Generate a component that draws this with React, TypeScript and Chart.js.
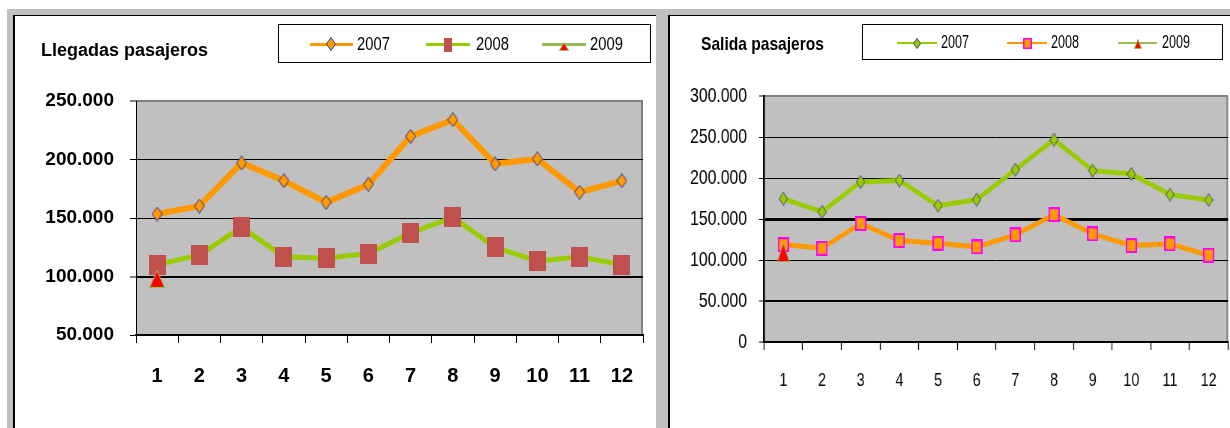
import React, { useEffect, useRef } from "react";
import { Chart, registerables } from "chart.js";

Chart.register(...registerables);

// ---------- data ----------
const months = ["1", "2", "3", "4", "5", "6", "7", "8", "9", "10", "11", "12"];
const seriesNames = ["2007", "2008", "2009"];

const llegadas2007 = [153400, 160200, 197100, 181800, 163400, 178700, 219800, 234000, 196300, 200500, 172100, 181800];
const llegadas2008 = [110000, 118400, 142000, 116800, 115700, 119600, 137200, 150600, 125000, 113100, 116800, 110000];
const llegadas2009 = [98000, null, null, null, null, null, null, null, null, null, null, null];

const salida2007 = [174800, 158600, 195200, 196800, 166300, 173600, 210200, 246700, 209000, 204900, 179700, 173200];
const salida2008 = [118800, 114300, 144400, 123700, 120400, 116000, 130600, 155300, 131800, 117600, 119600, 105800];
const salida2009 = [109000, null, null, null, null, null, null, null, null, null, null, null];

const llegadasTicks = [50000, 100000, 150000, 200000, 250000];
const salidaTicks = [0, 50000, 100000, 150000, 200000, 250000, 300000];

const llegadasTitle = "Llegadas pasajeros";
const salidaTitle = "Salida pasajeros";

// ---------- styles ----------
const SANS = '"Liberation Sans", Arial, sans-serif';

const ORANGE = "#FF9900";
const LIME = "#99CC00";
const BRICK = "#C0504D";
const OLIVE = "#9BBB59";
const NAVY = "#3C3C8C";

// right chart is drawn wider and squeezed horizontally (condensed look)
const RIGHT_W = 560;
const RIGHT_LOGICAL_W = 747;
const RS = RIGHT_W / RIGHT_LOGICAL_W;

function fmt(v: number) {
  if (v === 0) return "0";
  return Math.round(v).toString().replace(/\B(?=(\d{3})+(?!\d))/g, ".");
}

function makeCanvas(w: number, h: number, draw: (c: CanvasRenderingContext2D) => void) {
  const c = document.createElement("canvas");
  c.width = w;
  c.height = h;
  const ctx = c.getContext("2d") as CanvasRenderingContext2D;
  draw(ctx);
  return c;
}
function diamondStyle(w: number, h: number, fill: string, stroke: string) {
  return makeCanvas(w, h, (x) => {
    x.beginPath();
    x.moveTo(w / 2, 0.5);
    x.lineTo(w - 0.5, h / 2);
    x.lineTo(w / 2, h - 0.5);
    x.lineTo(0.5, h / 2);
    x.closePath();
    x.fillStyle = fill;
    x.fill();
    x.strokeStyle = stroke;
    x.lineWidth = 1;
    x.stroke();
  });
}
function rectStyle(w: number, h: number, fill: string, stroke?: string, sw = 0) {
  return makeCanvas(w, h, (x) => {
    x.fillStyle = fill;
    x.fillRect(0, 0, w, h);
    if (stroke && sw > 0) {
      x.strokeStyle = stroke;
      x.lineWidth = sw;
      x.strokeRect(sw / 2, sw / 2, w - sw, h - sw);
    }
  });
}
function triangleStyle(w: number, h: number, fill: string, stroke: string) {
  return makeCanvas(w, h, (x) => {
    x.beginPath();
    x.moveTo(w / 2, 0.5);
    x.lineTo(w - 0.5, h - 0.5);
    x.lineTo(0.5, h - 0.5);
    x.closePath();
    x.fillStyle = fill;
    x.fill();
    x.strokeStyle = stroke;
    x.lineWidth = 1;
    x.stroke();
  });
}

const plotBg = {
  id: "plotBg",
  beforeDraw(chart: any) {
    const { ctx, chartArea: a } = chart;
    ctx.save();
    ctx.fillStyle = "#C0C0C0";
    ctx.fillRect(a.left, a.top, a.right - a.left, a.bottom - a.top);
    ctx.strokeStyle = "#808080";
    ctx.lineWidth = 2;
    ctx.beginPath();
    ctx.moveTo(a.left, a.top);
    ctx.lineTo(a.right - 1, a.top);
    ctx.lineTo(a.right - 1, a.bottom);
    ctx.stroke();
    ctx.restore();
  },
};

function fixX(h: number) {
  return (s: any) => {
    s.height = h;
    s.paddingLeft = 0;
    s.paddingRight = 0;
  };
}

function buildLlegadas() {
  const ticks = llegadasTicks;
  return {
    type: "line",
    data: {
      labels: months,
      datasets: [
        {
          label: seriesNames[0],
          data: llegadas2007,
          borderColor: ORANGE,
          backgroundColor: ORANGE,
          borderWidth: 6,
          pointStyle: diamondStyle(11, 15, ORANGE, NAVY),
          pointRadius: 5,
          order: 3,
        },
        {
          label: seriesNames[1],
          data: llegadas2008,
          borderColor: LIME,
          backgroundColor: BRICK,
          borderWidth: 5,
          pointStyle: rectStyle(17, 20, BRICK),
          pointRadius: 5,
          order: 2,
        },
        {
          label: seriesNames[2],
          data: llegadas2009,
          borderColor: OLIVE,
          backgroundColor: "#FF0000",
          borderWidth: 5,
          pointStyle: triangleStyle(16, 18, "#FF0000", OLIVE),
          pointRadius: 5,
          order: 1,
        },
      ],
    },
    options: {
      responsive: false,
      animation: false,
      events: [],
      layout: { autoPadding: false, padding: { top: 85, right: 13, left: 0, bottom: 0 } },
      plugins: { legend: { display: false }, tooltip: { enabled: false }, title: { display: false } },
      scales: {
        x: {
          type: "category",
          offset: true,
          afterFit: fixX(93),
          grid: { offset: true, drawOnChartArea: false, drawTicks: true, tickLength: 8, tickColor: "#000", tickWidth: 1 },
          border: { display: true, color: "#000", width: 2 },
          ticks: { color: "#000", padding: 0, maxRotation: 0, autoSkip: false, font: { family: SANS, size: 20, weight: "bold", lineHeight: 3.3 } },
        },
        y: {
          min: ticks[0],
          max: ticks[ticks.length - 1],
          afterFit: (s: any) => { s.width = 121; },
          ticks: { stepSize: ticks[1] - ticks[0], color: "#000", padding: 16, callback: (v: any) => fmt(Number(v)), font: { family: SANS, size: 19, weight: "bold" } },
          grid: {
            color: "#000",
            lineWidth: (c: any) => {
              const v = c.tick ? c.tick.value : null;
              if (v === ticks[ticks.length - 1]) return 0;
              if (v === 100000) return 2;
              return 1;
            },
            tickLength: 6,
            tickColor: "#000",
            tickWidth: 1,
          },
          border: { display: true, color: "#000", width: 1 },
        },
      },
    },
    plugins: [plotBg],
  };
}

function buildSalida() {
  const ticks = salidaTicks;
  return {
    type: "line",
    data: {
      labels: months,
      datasets: [
        {
          label: seriesNames[0],
          data: salida2007,
          borderColor: LIME,
          backgroundColor: LIME,
          borderWidth: 5,
          pointStyle: diamondStyle(12, 14, LIME, NAVY),
          pointRadius: 5,
          order: 3,
        },
        {
          label: seriesNames[1],
          data: salida2008,
          borderColor: ORANGE,
          backgroundColor: ORANGE,
          borderWidth: 5,
          pointStyle: rectStyle(15, 15, ORANGE, "#FF00FF", 2),
          pointRadius: 5,
          order: 2,
        },
        {
          label: seriesNames[2],
          data: salida2009,
          borderColor: OLIVE,
          backgroundColor: "#FF0000",
          borderWidth: 5,
          pointStyle: triangleStyle(17, 19, "#FF0000", OLIVE),
          pointRadius: 5,
          order: 1,
        },
      ],
    },
    options: {
      responsive: false,
      animation: false,
      events: [],
      layout: { autoPadding: false, padding: { top: 80, right: 2 / RS, left: 0, bottom: 0 } },
      plugins: { legend: { display: false }, tooltip: { enabled: false }, title: { display: false } },
      scales: {
        x: {
          type: "category",
          offset: true,
          afterFit: fixX(86),
          grid: { offset: true, drawOnChartArea: false, drawTicks: true, tickLength: 8, tickColor: "#000", tickWidth: 1.3 },
          border: { display: true, color: "#000", width: 2 },
          ticks: { color: "#000", padding: 0, maxRotation: 0, autoSkip: false, font: { family: SANS, size: 19, lineHeight: 3.26 } },
        },
        y: {
          min: ticks[0],
          max: ticks[ticks.length - 1],
          afterFit: (s: any) => { s.width = 94 / RS; },
          ticks: { stepSize: ticks[1] - ticks[0], color: "#000", padding: 16, callback: (v: any) => fmt(Number(v)), font: { family: SANS, size: 21 } },
          grid: {
            color: "#000",
            lineWidth: (c: any) => {
              const v = c.tick ? c.tick.value : null;
              if (v === ticks[ticks.length - 1]) return 0;
              if (v === 150000) return 3;
              if (v === 50000 || v === 0) return 2;
              return 1;
            },
            tickLength: 5 / RS,
            tickColor: "#000",
            tickWidth: 1,
          },
          border: { display: true, color: "#000", width: 2.5 },
        },
      },
    },
    plugins: [plotBg],
  };
}

function ChartCanvas({ left, top, width, height, logicalWidth, build }: { left: number; top: number; width: number; height: number; logicalWidth: number; build: () => any }) {
  const ref = useRef<HTMLCanvasElement | null>(null);
  useEffect(() => {
    if (!ref.current) return;
    const chart = new Chart(ref.current, build());
    return () => chart.destroy();
  }, []);
  const sx = width / logicalWidth;
  return (
    <div style={{ position: "absolute", left, top, width, height, overflow: "hidden" }}>
      <canvas
        ref={ref}
        width={logicalWidth}
        height={height}
        style={{
          position: "absolute",
          left: 0,
          top: 0,
          width: logicalWidth,
          height,
          display: "block",
          transform: sx !== 1 ? `scaleX(${sx})` : undefined,
          transformOrigin: "0 0",
        }}
      />
    </div>
  );
}

function Label({ x, baseline, size, weight, text, sx = 1 }: { x: number; baseline: number; size: number; weight?: string; text: string; sx?: number }) {
  return (
    <div
      style={{
        position: "absolute",
        left: x,
        top: baseline - 0.85 * size,
        fontSize: size,
        lineHeight: `${size}px`,
        fontFamily: SANS,
        fontWeight: (weight as any) || "normal",
        whiteSpace: "nowrap",
        color: "#000",
        transform: sx !== 1 ? `scaleX(${sx})` : undefined,
        transformOrigin: "0 50%",
      }}
    >
      {text}
    </div>
  );
}

function Marker({ cx, cy, w, h, kind, fill, stroke, sw }: { cx: number; cy: number; w: number; h: number; kind: string; fill: string; stroke?: string; sw?: number }) {
  const s = sw || 0;
  let shape;
  if (kind === "diamond") {
    shape = <polygon points={`${w / 2},0.5 ${w - 0.5},${h / 2} ${w / 2},${h - 0.5} 0.5,${h / 2}`} fill={fill} stroke={stroke} strokeWidth={s} />;
  } else if (kind === "rect") {
    shape = <rect x={s / 2} y={s / 2} width={w - s} height={h - s} fill={fill} stroke={stroke} strokeWidth={s} />;
  } else {
    shape = <polygon points={`${w / 2},0.5 ${w - 0.5},${h - 0.5} 0.5,${h - 0.5}`} fill={fill} stroke={stroke} strokeWidth={s} />;
  }
  return (
    <svg width={w} height={h} style={{ position: "absolute", left: cx - w / 2, top: cy - h / 2, overflow: "visible" }}>
      {shape}
    </svg>
  );
}

function LegendLine({ x1, x2, y, color, t }: { x1: number; x2: number; y: number; color: string; t: number }) {
  return <div style={{ position: "absolute", left: x1, top: y - t / 2, width: x2 - x1, height: t, background: color }} />;
}

export default function App() {
  return (
    <div style={{ position: "fixed", left: 0, top: 0, width: 1230, height: 428, background: "#fff", overflow: "hidden" }}>
      <div style={{ position: "absolute", left: 7, top: 9, width: 1223, height: 419, background: "#C0C0C0" }} />
      <div style={{ position: "absolute", left: 13, top: 15, width: 643, height: 413, background: "#fff", borderLeft: "2px solid #000", borderTop: "1px solid #000", boxSizing: "border-box" }} />
      <div style={{ position: "absolute", left: 668, top: 15, width: 562, height: 413, background: "#fff", borderLeft: "2px solid #000", borderTop: "1px solid #000", boxSizing: "border-box" }} />

      <ChartCanvas left={15} top={16} width={641} height={412} logicalWidth={641} build={buildLlegadas} />
      <ChartCanvas left={670} top={16} width={RIGHT_W} height={412} logicalWidth={RIGHT_LOGICAL_W} build={buildSalida} />

      {/* Left title + legend */}
      <Label x={41} baseline={56} size={18} weight="bold" text={llegadasTitle} />
      <div style={{ position: "absolute", left: 278, top: 24, width: 373, height: 39, border: "1px solid #000", boxSizing: "border-box" }} />
      <LegendLine x1={310} x2={353} y={44} color={ORANGE} t={3} />
      <Marker cx={331} cy={44} w={10} h={14} kind="diamond" fill={ORANGE} stroke={NAVY} sw={1} />
      <Label x={357} baseline={50.5} size={18} sx={0.82} text={seriesNames[0]} />
      <LegendLine x1={426} x2={470} y={44} color={LIME} t={3} />
      <Marker cx={448} cy={45} w={8} h={14} kind="rect" fill={BRICK} />
      <Label x={476} baseline={50.5} size={18} sx={0.82} text={seriesNames[1]} />
      <LegendLine x1={542} x2={586} y={44} color={OLIVE} t={3} />
      <Marker cx={564} cy={46} w={10} h={9} kind="triangle" fill="#FF0000" stroke={OLIVE} sw={1} />
      <Label x={590} baseline={50.5} size={18} sx={0.82} text={seriesNames[2]} />

      {/* Right title + legend */}
      <Label x={701} baseline={50.5} size={19} weight="bold" sx={0.82} text={salidaTitle} />
      <div style={{ position: "absolute", left: 862, top: 24, width: 361, height: 36, border: "1px solid #000", boxSizing: "border-box" }} />
      <LegendLine x1={897} x2={937} y={43} color={LIME} t={2} />
      <Marker cx={917} cy={43} w={8} h={11} kind="diamond" fill={LIME} stroke={NAVY} sw={1} />
      <Label x={941} baseline={48.3} size={18} sx={0.7} text={seriesNames[0]} />
      <LegendLine x1={1007} x2={1047} y={43} color={ORANGE} t={2} />
      <Marker cx={1027} cy={43} w={9} h={11} kind="rect" fill={ORANGE} stroke="#FF00FF" sw={1.5} />
      <Label x={1051} baseline={48.3} size={18} sx={0.7} text={seriesNames[1]} />
      <LegendLine x1={1118} x2={1157} y={43} color={OLIVE} t={2} />
      <Marker cx={1138} cy={44} w={8} h={10} kind="triangle" fill="#FF0000" stroke={OLIVE} sw={1} />
      <Label x={1162} baseline={48.3} size={18} sx={0.7} text={seriesNames[2]} />
    </div>
  );
}
